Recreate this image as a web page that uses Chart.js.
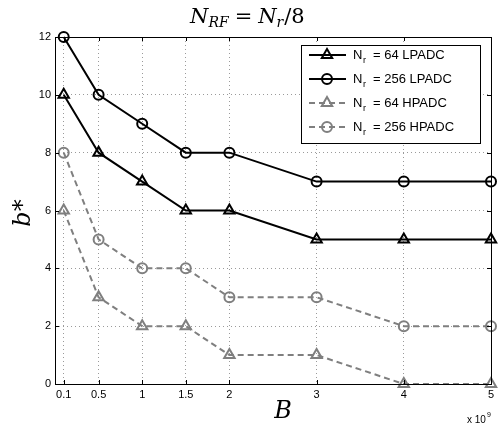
<!DOCTYPE html>
<html>
<head>
<meta charset="utf-8">
<script src="https://cdn.jsdelivr.net/npm/chart.js@4"></script>
<style>
  html, body { margin: 0; padding: 0; background: #fff; overflow: hidden; }
  #wrap { width: 499px; height: 427px; position: relative; }
</style>
</head>
<body>
<div id="wrap"><canvas id="chart"></canvas></div>
<script>
// x values are in units of 1e9
const bandwidth = [0.1, 0.5, 1, 1.5, 2, 3, 4, 5];
const xTicks = [0.1, 0.5, 1, 1.5, 2, 3, 4, 5];
const yTicks = [0, 2, 4, 6, 8, 10, 12];

const nr64Lp = [10, 8, 7, 6, 6, 5, 5, 5];
const nr256Lp = [12, 10, 9, 8, 8, 7, 7, 7];
const nr64Hp = [6, 3, 2, 2, 1, 1, 0, 0];
const nr256Hp = [8, 5, 4, 4, 3, 3, 2, 2];

const labels = ['64 LPADC', '256 LPADC', '64 HPADC', '256 HPADC'];

function toPoints(ys) {
    return bandwidth.map((x, i) => ({ x: x, y: ys[i] }));
}

function makeSet(label, ys, color, shape, dashed) {
    return {
        label: label,
        data: toPoints(ys),
        borderColor: color,
        backgroundColor: 'transparent',
        borderWidth: 2,
        borderDash: dashed ? [6, 4] : [],
        pointStyle: shape,
        pointRadius: shape === 'triangle' ? 6 : 5,
        pointBorderColor: color,
        pointBackgroundColor: 'transparent',
        pointBorderWidth: 2,
        clip: false,
        tension: 0
    };
}

const black = '#000000';
const grey = '#7f7f7f';

// frame, titles and legend in the matlab look
const decorations = {
    id: 'decorations',
    afterDraw(chart) {
        const ctx = chart.ctx;
        const a = chart.chartArea;
        const xs = chart.scales.x;
        const ys = chart.scales.y;
        ctx.save();

        // box
        ctx.strokeStyle = '#000';
        ctx.lineWidth = 1;
        ctx.strokeRect(a.left + 0.5, a.top + 0.5, a.right - a.left, a.bottom - a.top);

        // inward tick marks
        ctx.beginPath();
        xTicks.forEach(v => {
            const px = Math.round(xs.getPixelForValue(v)) + 0.5;
            ctx.moveTo(px, a.bottom); ctx.lineTo(px, a.bottom - 4);
            ctx.moveTo(px, a.top); ctx.lineTo(px, a.top + 4);
        });
        yTicks.forEach(v => {
            const py = Math.round(ys.getPixelForValue(v)) + 0.5;
            ctx.moveTo(a.left, py); ctx.lineTo(a.left + 4, py);
            ctx.moveTo(a.right, py); ctx.lineTo(a.right - 4, py);
        });
        ctx.stroke();

        // title N_RF = N_r/8
        ctx.fillStyle = '#000';
        ctx.textBaseline = 'alphabetic';
        ctx.font = 'italic 21px "DejaVu Serif", "Liberation Serif", serif';
        let x = 190, y = 23;
        ctx.textAlign = 'left';
        ctx.fillText('N', x, y);
        x += ctx.measureText('N').width;
        ctx.font = 'italic 14px "DejaVu Serif", "Liberation Serif", serif';
        ctx.fillText('RF', x, y + 4);
        x += ctx.measureText('RF').width + 6;
        ctx.font = '21px "DejaVu Serif", "Liberation Serif", serif';
        ctx.fillText('=', x, y);
        x += ctx.measureText('=').width + 6;
        ctx.font = 'italic 21px "DejaVu Serif", "Liberation Serif", serif';
        ctx.fillText('N', x, y);
        x += ctx.measureText('N').width;
        ctx.font = 'italic 14px "DejaVu Serif", "Liberation Serif", serif';
        ctx.fillText('r', x, y + 4);
        x += ctx.measureText('r').width + 1;
        ctx.font = '21px "DejaVu Serif", "Liberation Serif", serif';
        ctx.fillText('/8', x, y);

        // x label
        ctx.textAlign = 'center';
        ctx.font = 'italic 24px "DejaVu Serif", "Liberation Serif", serif';
        ctx.fillText('B', 283, 418);

        // x 10^9
        ctx.font = '10px "Liberation Sans", Arial, sans-serif';
        ctx.textAlign = 'left';
        ctx.fillText('x 10', 467, 423);
        ctx.font = '7px "Liberation Sans", Arial, sans-serif';
        ctx.fillText('9', 487, 417);

        // y label
        ctx.save();
        ctx.translate(30, 213);
        ctx.rotate(-Math.PI / 2);
        ctx.textAlign = 'center';
        ctx.font = 'italic 24px "DejaVu Serif", "Liberation Serif", serif';
        ctx.fillText('b*', 0, 0);
        ctx.restore();

        // legend
        const lx = 301, ly = 45, lw = 179, lh = 98;
        ctx.fillStyle = '#fff';
        ctx.fillRect(lx, ly, lw, lh);
        ctx.strokeStyle = '#000';
        ctx.lineWidth = 1;
        ctx.strokeRect(lx + 0.5, ly + 0.5, lw, lh);
        const rowsY = [55, 79, 103, 127];
        chart.data.datasets.forEach((ds, i) => {
            const ry = rowsY[i];
            ctx.strokeStyle = ds.borderColor;
            ctx.lineWidth = 2;
            ctx.setLineDash(ds.borderDash);
            ctx.beginPath();
            ctx.moveTo(309, ry); ctx.lineTo(346, ry);
            ctx.stroke();
            ctx.setLineDash([]);
            ctx.fillStyle = 'rgba(0,0,0,0)';
            ctx.strokeStyle = ds.borderColor;
            Chart.helpers.drawPoint(ctx, {
                pointStyle: ds.pointStyle,
                radius: ds.pointRadius,
                borderWidth: 2,
                rotation: 0
            }, 327, ry);
            ctx.fillStyle = '#000';
            ctx.textAlign = 'left';
            ctx.textBaseline = 'middle';
            ctx.font = '13px "Liberation Sans", Arial, sans-serif';
            ctx.fillText('N', 353, ry);
            ctx.font = '9px "Liberation Sans", Arial, sans-serif';
            ctx.fillText('r', 363, ry + 6);
            ctx.font = '13px "Liberation Sans", Arial, sans-serif';
            ctx.fillText('= ' + labels[i], 373, ry);
        });

        ctx.restore();
    }
};

new Chart(document.getElementById('chart'), {
    type: 'line',
    data: {
        datasets: [
            makeSet('Nr = 64 LPADC', nr64Lp, black, 'triangle', false),
            makeSet('Nr = 256 LPADC', nr256Lp, black, 'circle', false),
            makeSet('Nr = 64 HPADC', nr64Hp, grey, 'triangle', true),
            makeSet('Nr = 256 HPADC', nr256Hp, grey, 'circle', true)
        ]
    },
    options: {
        responsive: true,
        maintainAspectRatio: false,
        animation: false,
        layout: { padding: { top: 37, right: -1, left: 0, bottom: 0 } },
        scales: {
            x: {
                type: 'linear',
                min: 0,
                max: 5,
                afterBuildTicks: function(scale) {
                    scale.ticks = xTicks.map(v => ({ value: v }));
                },
                afterFit: function(scale) {
                    scale.height = 43;
                    scale.paddingLeft = 0;
                    scale.paddingRight = 0;
                },
                grid: {
                    color: '#9a9a9a',
                    lineWidth: 1,
                    drawTicks: false
                },
                border: { display: false, dash: [1, 3] },
                ticks: {
                    autoSkip: false,
                    maxRotation: 0,
                    padding: 4,
                    color: '#000',
                    font: { family: '"Liberation Sans", Arial, sans-serif', size: 11 },
                    callback: function(v) { return String(v); }
                }
            },
            y: {
                type: 'linear',
                min: 0,
                max: 12,
                afterBuildTicks: function(scale) {
                    scale.ticks = yTicks.map(v => ({ value: v }));
                },
                afterFit: function(scale) {
                    scale.width = 55;
                    scale.paddingTop = 0;
                    scale.paddingBottom = 0;
                },
                grid: {
                    color: '#9a9a9a',
                    lineWidth: 1,
                    drawTicks: false
                },
                border: { display: false, dash: [1, 3] },
                ticks: {
                    padding: 4,
                    color: '#000',
                    font: { family: '"Liberation Sans", Arial, sans-serif', size: 11 }
                }
            }
        },
        plugins: {
            legend: { display: false },
            title: { display: false },
            tooltip: { enabled: false }
        }
    },
    plugins: [decorations]
});
</script>
</body>
</html>
